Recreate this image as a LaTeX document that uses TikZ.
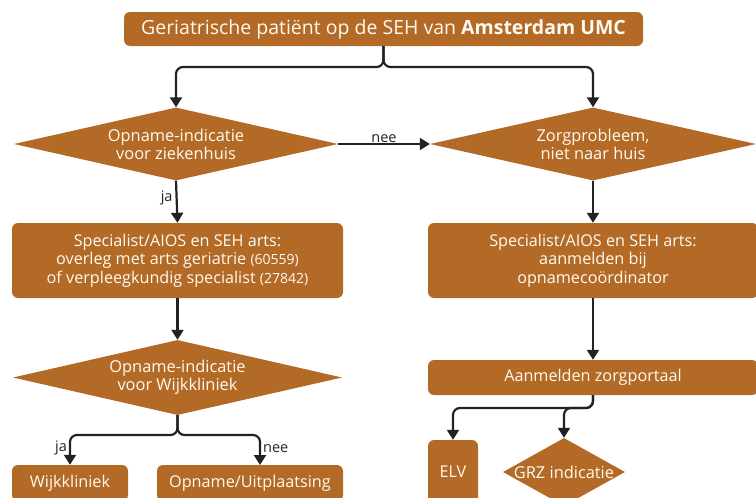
\documentclass[tikz,border=0pt]{standalone}
\usepackage{fontspec}
\setmainfont{Open Sans}
\usetikzlibrary{shapes.geometric,arrows.meta}
\definecolor{brn}{RGB}{178,106,38}
\definecolor{ln}{RGB}{34,34,34}
\definecolor{txtw}{RGB}{255,250,240}
\newcommand{\sm}[1]{{\fontsize{14}{18}\selectfont #1}}
\begin{document}
\begin{tikzpicture}[x=1pt,y=-1pt,
  box/.style={fill=brn, rounded corners=6pt, text=txtw, align=center, inner sep=0pt,
    font=\fontsize{16.2}{18.7}\selectfont},
  diam/.style={diamond, fill=brn, inner sep=0pt},
  dtext/.style={text=txtw, align=center, font=\fontsize{16.4}{18}\selectfont},
  arr/.style={draw=ln, line width=2.2pt, -{Triangle[width=12pt,length=10pt]}, rounded corners=7pt},
  lbl/.style={text=ln, font=\fontsize{14.5}{16}\selectfont, inner sep=1pt}]
\useasboundingbox (0,0) rectangle (756,498);
\clip (0,0) rectangle (756,498);
% nodes
\node[box, minimum width=519, minimum height=34, font=\fontsize{19.5}{22}\selectfont] (top) at (383.5,29)
  {Geriatrische patiënt op de SEH van \textbf{Amsterdam UMC}};
\node[diam, minimum width=324, minimum height=73,
  label={[dtext]center:Opname-indicatie\\voor ziekenhuis}] (d1) at (176,144) {};
\node[diam, minimum width=326, minimum height=73,
  label={[dtext]center:Zorgprobleem,\\niet naar huis}] (d2) at (593,144) {};
\node[box, minimum width=331, minimum height=75] (b1) at (177.5,260.5)
  {Specialist/AIOS en SEH arts:\\overleg met arts geriatrie \sm{(60559)}\\of verpleegkundig specialist \sm{(27842)}};
\node[box, minimum width=330, minimum height=75] (b2) at (593,260.5)
  {Specialist/AIOS en SEH arts:\\aanmelden bij\\opnamecoördinator};
\node[diam, minimum width=329, minimum height=75,
  label={[dtext]center:Opname-indicatie\\voor Wijkkliniek}] (d3) at (177.5,377.5) {};
\node[box, minimum width=330, minimum height=35] (b3) at (593,377.5) {Aanmelden zorgportaal};
\node[box, minimum width=116, minimum height=36] (wk) at (70,483) {Wijkkliniek};
\node[box, minimum width=186, minimum height=36] (ou) at (250,483) {Opname/Uitplaatsing};
\node[box, minimum width=50, minimum height=64] (elv) at (453,472) {ELV};
\node[diam, minimum width=122, minimum height=68,
  label={[dtext]center:GRZ indicatie}] (grz) at (564,472) {};
\coordinate (ouin) at (260,465);
% connectors
\draw[arr] (top.south) -- (383.5,67) -| (d1.north);
\draw[arr] (top.south) -- (383.5,67) -| (d2.north);
\draw[arr] (d1.east) -- node[lbl, above, yshift=-1pt] {nee} (d2.west);
\draw[arr] (d1.south) -- node[lbl, left, pos=0.4, xshift=-2pt] {ja} (b1.north);
\draw[arr] (d2.south) -- (b2.north);
\draw[arr] (b1.south) -- (d3.north);
\draw[arr] (b2.south) -- (b3.north);
\draw[arr] (d3.south) -- (177.5,435) -| node[lbl, pos=0.72, left, xshift=-1pt] {ja} (wk.north);
\draw[arr] (d3.south) -- (177.5,435) -| node[lbl, pos=0.72, right, xshift=1pt] {nee} (ouin);
\draw[arr] (b3.south) -- (593,408) -| (elv.north);
\draw[arr] (b3.south) -- (593,408) -| (grz.north);
\end{tikzpicture}
\end{document}
